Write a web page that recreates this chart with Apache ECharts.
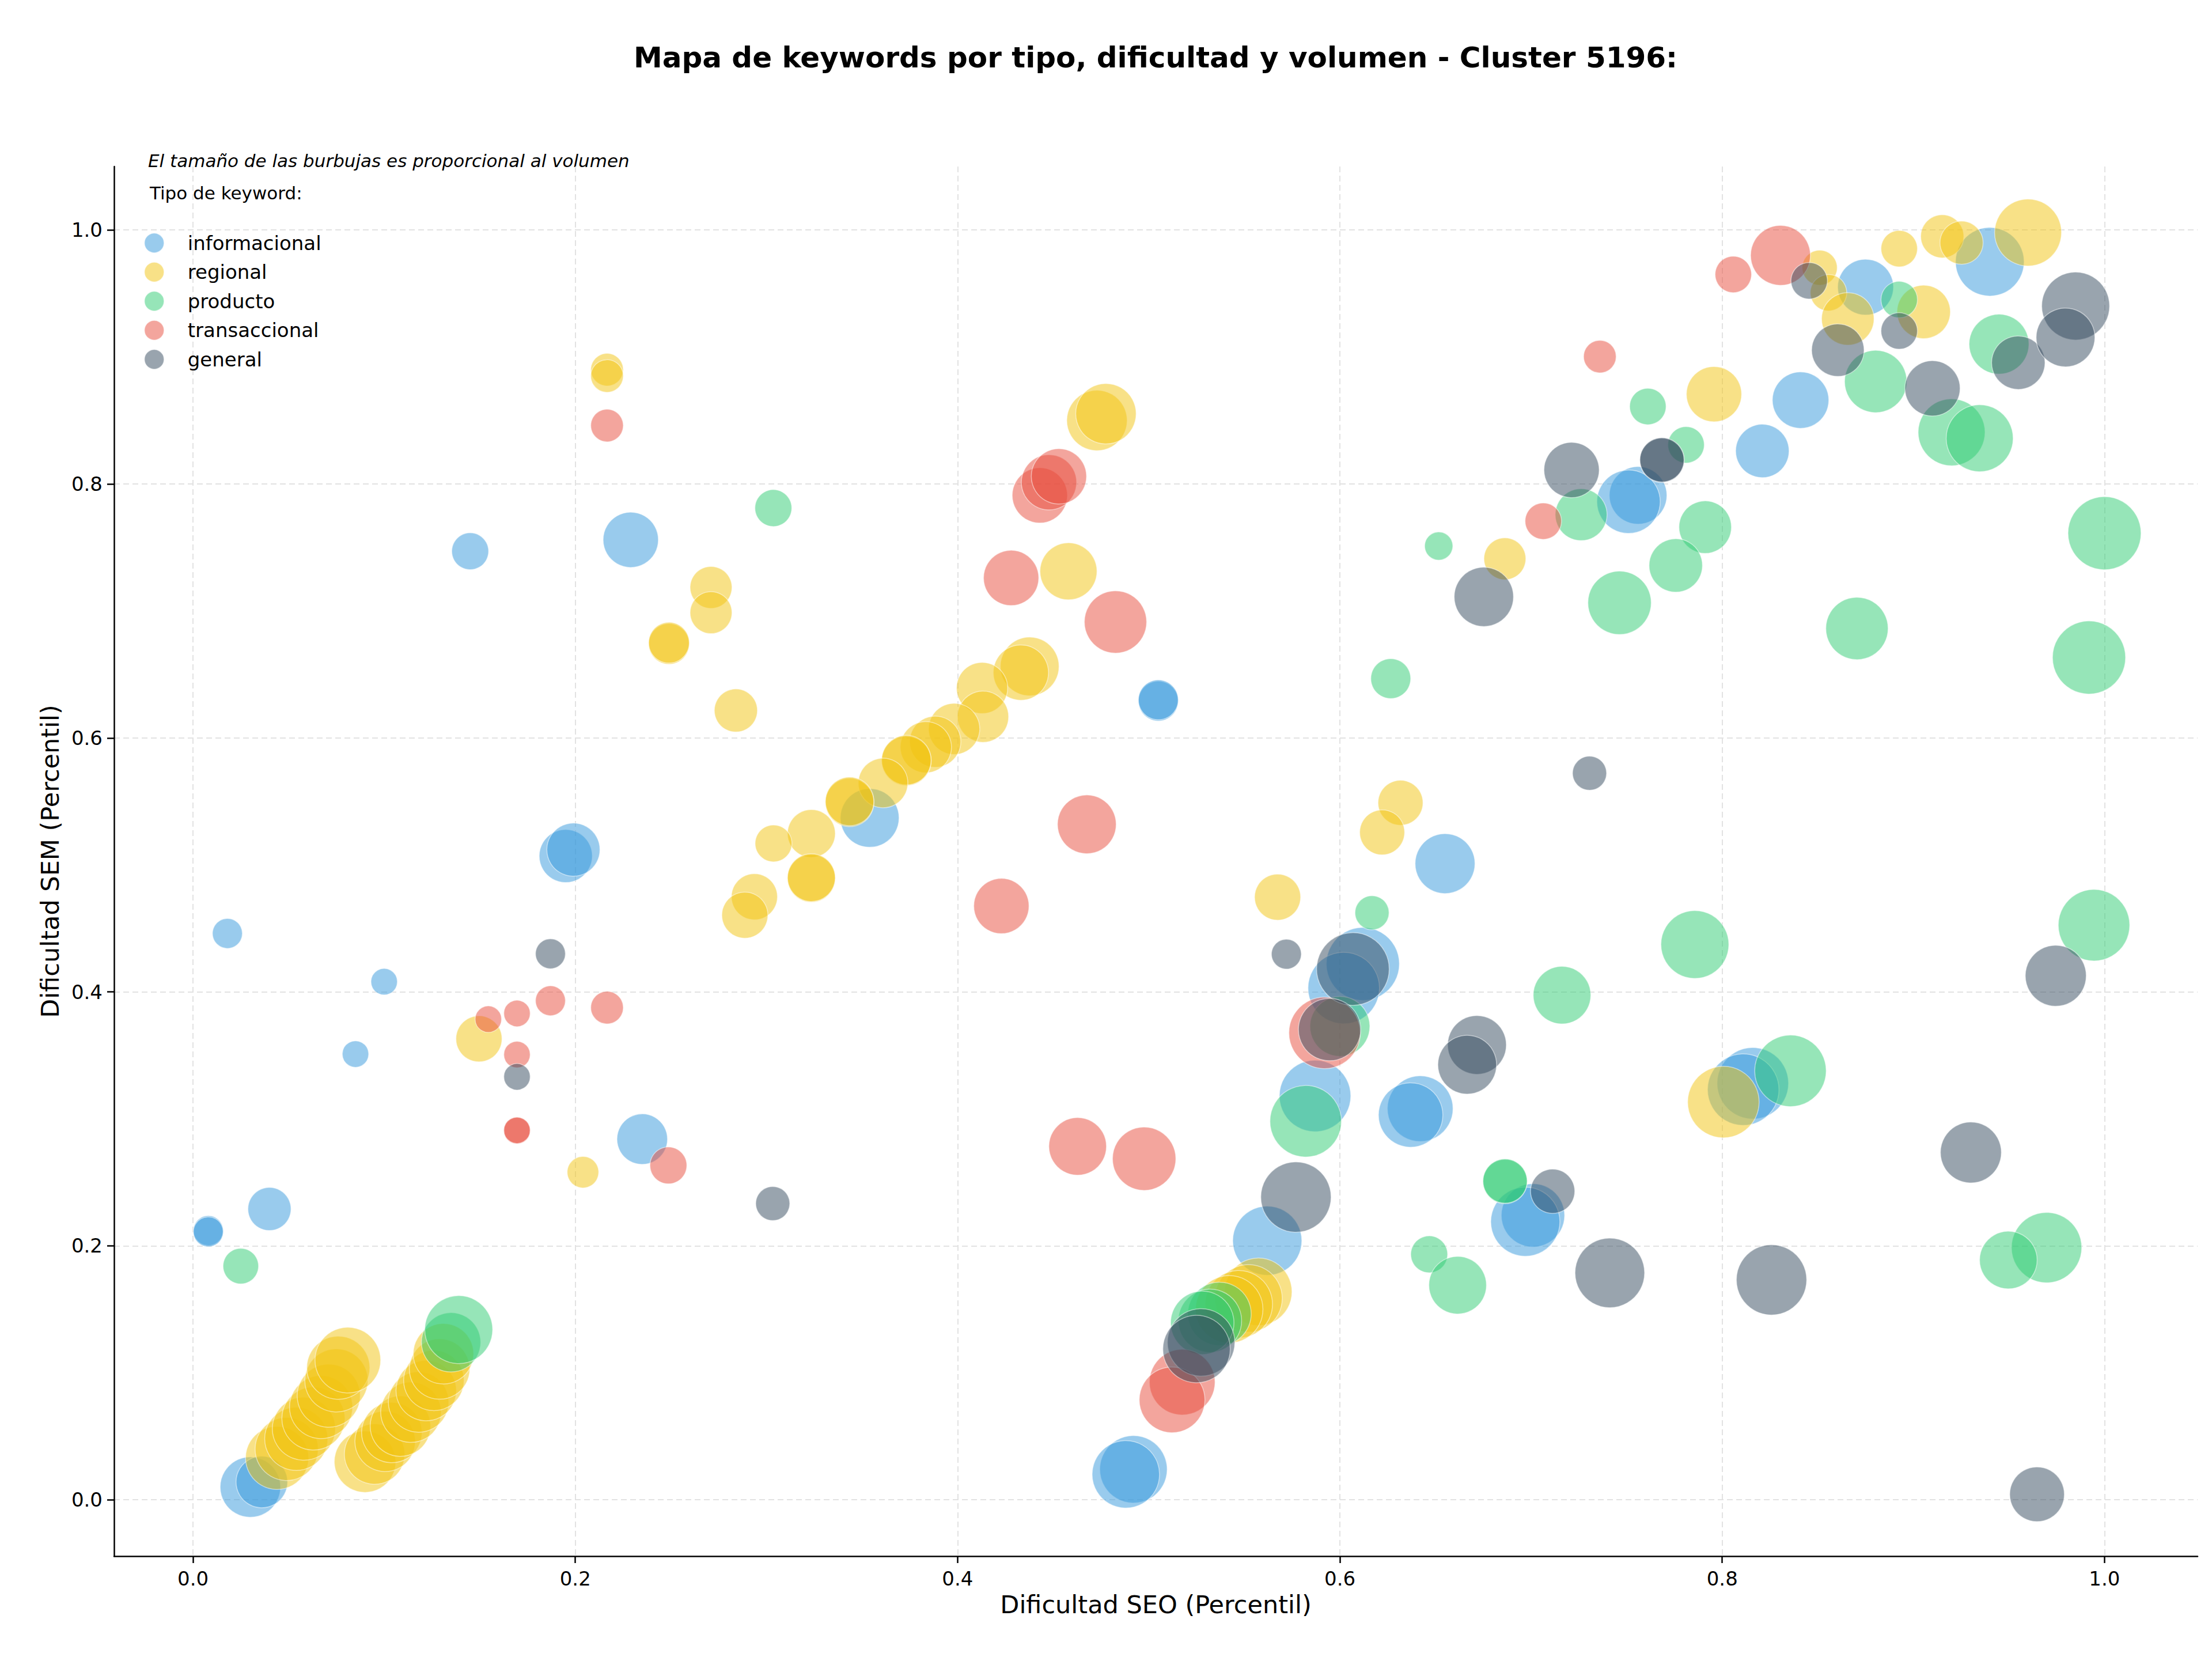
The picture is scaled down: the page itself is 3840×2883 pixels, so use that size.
<!DOCTYPE html>
<html><head><meta charset="utf-8">
<script src="https://cdn.jsdelivr.net/npm/echarts@6/dist/echarts.min.js"></script>
<style>html,body{margin:0;padding:0;background:#fff}#c{width:3840px;height:2883px}</style>
</head><body><div id="c"></div>
<script>
const titleText = 'Mapa de keywords por tipo, dificultad y volumen - Cluster 5196:';
const noteText = 'El tamaño de las burbujas es proporcional al volumen';
const legendTitle = 'Tipo de keyword:';
const xName = 'Dificultad SEO (Percentil)';
const yName = 'Dificultad SEM (Percentil)';
const xTicks = [0, 0.2, 0.4, 0.6, 0.8, 1.0];
const yTicks = [0, 0.2, 0.4, 0.6, 0.8, 1.0];
const categories = ['informacional', 'regional', 'producto', 'transaccional', 'general'];

// [dificultad SEO, dificultad SEM, volumen]
const informacional = [
[0.018,0.446,2700],[0.008,0.212,2700],[0.008,0.211,2700],[0.040,0.229,5600],
[0.100,0.408,2100],[0.085,0.351,2100],[0.145,0.747,4100],[0.229,0.756,9200],
[0.195,0.507,8500],[0.199,0.512,8500],[0.235,0.284,7700],[0.030,0.010,11000],
[0.036,0.014,8000],[0.354,0.537,10400],[0.505,0.629,4800],[0.505,0.630,4800],
[0.492,0.024,13700],[0.488,0.020,13700],[0.562,0.204,14400],[0.587,0.318,15400],
[0.612,0.422,16100],[0.602,0.403,15400],[0.655,0.501,10800],[0.642,0.308,13000],
[0.637,0.303,12500],[0.701,0.224,12100],[0.697,0.219,14400],[0.816,0.328,15400],
[0.811,0.323,15400],[0.756,0.791,10000],[0.751,0.786,12100],[0.821,0.826,8600],
[0.841,0.866,9600],[0.875,0.955,9400],[0.940,0.975,14200]
];
const regional = [
[0.044,0.033,12000],[0.049,0.040,12000],[0.054,0.048,12000],[0.058,0.056,12000],
[0.063,0.064,12000],[0.067,0.073,12000],[0.071,0.082,12000],[0.075,0.094,12000],
[0.076,0.104,12000],[0.081,0.110,13000],[0.090,0.030,11400],
[0.095,0.036,11000],[0.1005,0.046,11000],[0.104,0.053,11000],[0.1085,0.058,11000],
[0.114,0.069,11000],[0.118,0.077,11000],[0.122,0.086,11000],[0.126,0.094,11000],
[0.129,0.103,11000],[0.131,0.115,11000],
[0.2166,0.890,3200],[0.2166,0.885,3200],[0.1496,0.363,6400],[0.204,0.258,3000],
[0.271,0.7185,5300],[0.271,0.6986,5300],[0.249,0.674,5000],[0.249,0.675,5000],
[0.284,0.6216,5600],[0.4729,0.850,11000],[0.4776,0.8553,11000],[0.458,0.7312,9800],
[0.4377,0.6563,10400],[0.4331,0.6514,9200],[0.4128,0.6393,7900],[0.4133,0.6167,7900],
[0.3982,0.6071,7900],[0.3883,0.597,7900],[0.3834,0.5927,7900],[0.3732,0.5819,7400],
[0.3732,0.5825,7400],[0.361,0.5645,7400],[0.3435,0.5492,7100],[0.3435,0.550,7100],
[0.3235,0.5247,6900],[0.3037,0.5169,4100],[0.3235,0.4894,6900],[0.3235,0.4900,6900],
[0.2937,0.4749,6400],[0.2887,0.4604,6400],[0.5674,0.4746,6400],[0.6317,0.5489,6100],
[0.6221,0.5256,6100],[0.6863,0.7411,5300],[0.5573,0.1638,13700],[0.5522,0.1586,13700],
[0.5471,0.154,13700],[0.5421,0.150,13700],[0.8006,0.3132,15400],[0.7957,0.8707,9200],
[0.851,0.9703,3700],[0.8556,0.9506,4000],[0.8657,0.930,8300],[0.8926,0.9853,4000],
[0.9054,0.9355,8600],[0.9151,0.995,5600],[0.9252,0.990,5600],[0.960,0.998,13500]
];
const producto = [
[0.025,0.184,3800],[0.135,0.124,10600],[0.139,0.134,13900],[0.3036,0.781,4100],
[0.6168,0.4623,3500],[0.600,0.3728,10800],[0.5821,0.2981,15400],[0.537,0.1464,12100],
[0.532,0.141,12100],[0.528,0.1394,12100],[0.7162,0.3974,10000],[0.6864,0.2506,5900],
[0.6864,0.2510,5900],[0.6467,0.1933,4100],[0.6616,0.169,10000],[0.7857,0.4373,13900],
[0.9945,0.4525,15400],[0.8357,0.3378,15400],[0.9697,0.1986,14900],[0.9497,0.1888,10000],
[0.6517,0.7511,2400],[0.6266,0.6467,4800],[0.8926,0.9452,4000],[0.9448,0.9101,10800],
[0.920,0.8407,13500],[0.9347,0.836,13500],[0.8803,0.8807,11700],[0.7611,0.861,4000],
[0.7811,0.8308,4000],[0.7262,0.7758,8100],[0.7911,0.766,8300],[0.7757,0.7358,8600],
[0.7463,0.7064,12100],[0.8705,0.6862,11700],[1.000,0.7612,16100],[0.9919,0.6633,16100]
];
const transaccional = [
[0.2166,0.846,3200],[0.187,0.393,2700],[0.2166,0.3876,3200],[0.1695,0.383,2100],
[0.1545,0.3785,2100],[0.1695,0.3506,2100],[0.1695,0.2906,2100],[0.1695,0.2910,2100],
[0.2487,0.2633,4100],[0.443,0.791,9200],[0.4478,0.8013,9200],[0.453,0.806,9200],
[0.428,0.726,9200],[0.4826,0.6913,11700],[0.4676,0.5319,10400],[0.4229,0.4676,9200],
[0.4628,0.2783,10000],[0.4976,0.2686,12100],[0.592,0.3677,15400],[0.5175,0.0926,13000],
[0.5122,0.0787,13000],[0.7064,0.7707,4000],[0.736,0.9003,3200],[0.8058,0.965,4000],
[0.8305,0.980,10800]
];
const general = [
[0.187,0.430,2700],[0.1695,0.3331,2100],[0.3033,0.2333,3500],[0.572,0.4297,2700],
[0.6068,0.418,15900],[0.5946,0.3703,11700],[0.577,0.2384,14900],[0.5274,0.1239,13700],
[0.525,0.1187,13700],[0.6717,0.3582,10400],[0.6666,0.3426,10400],[0.7113,0.243,5900],
[0.7412,0.1787,14600],[0.8258,0.1732,14900],[0.9301,0.2735,11200],[0.9745,0.4127,11200],
[0.9647,0.0043,9000],[0.6753,0.7111,10600],[0.7306,0.5722,3500],[0.7212,0.811,9200],
[0.7685,0.8186,5900],[0.7685,0.8190,5900],[0.8455,0.960,4000],[0.8605,0.9054,8300],
[0.8926,0.9205,4000],[0.910,0.8753,9200],[0.9549,0.8955,8600],[0.9849,0.9401,13900],
[0.9796,0.9154,10400]
];

const seriesData = [informacional, regional, producto, transaccional, general];
const colors = ['#3498db', '#f1c40f', '#2ecc71', '#e74c3c', '#34495e'];
const FONT = '"DejaVu Sans", sans-serif';

const chart = echarts.init(document.getElementById('c'), null, {renderer: 'svg', width: 3840, height: 2883});

const axisCommon = {
  type: 'value',
  axisLine: {show: true, onZero: false, lineStyle: {color: '#000', width: 2.5}},
  axisTick: {show: true, inside: false, length: 12, lineStyle: {color: '#000', width: 2.5}},
  splitLine: {show: true, lineStyle: {color: '#e2e2e2', width: 2, type: [10, 6]}},
  nameLocation: 'middle',
  nameTextStyle: {fontFamily: FONT, fontSize: 43, color: '#000'}
};

chart.setOption({
  animation: false,
  backgroundColor: '#fff',
  color: colors,
  grid: {left: 198, right: 25, top: 289, bottom: 182, containLabel: false},
  xAxis: Object.assign({}, axisCommon, {
    min: -0.0413, max: 1.0487,
    name: xName, nameGap: 62,
    axisTick: Object.assign({}, axisCommon.axisTick, {customValues: xTicks}),
    axisLabel: {customValues: xTicks, margin: 22, fontFamily: FONT, fontSize: 34, color: '#000',
      formatter: v => v.toFixed(1)}
  }),
  yAxis: Object.assign({}, axisCommon, {
    min: -0.0444, max: 1.05,
    name: yName, nameGap: 90,
    axisTick: Object.assign({}, axisCommon.axisTick, {customValues: yTicks}),
    axisLabel: {customValues: yTicks, margin: 20, fontFamily: FONT, fontSize: 34, color: '#000',
      formatter: v => v.toFixed(1)}
  }),
  legend: {
    orient: 'vertical', left: 245, top: 399,
    itemWidth: 34, itemHeight: 34, itemGap: 15,
    icon: 'circle',
    textStyle: {fontFamily: FONT, fontSize: 34, color: '#000', padding: [0, 0, 0, 36]},
    data: categories.map((c, i) => ({name: c, itemStyle: {color: colors[i], opacity: 0.5, borderColor: '#fff', borderWidth: 1.5}}))
  },
  graphic: [
    {type: 'text', x: 2006, y: 100, silent: true,
      style: {text: titleText, fontFamily: FONT, fontSize: 50, fontWeight: 'bold', fill: '#000', align: 'center', verticalAlign: 'middle'}},
    {type: 'text', x: 257, y: 279, silent: true,
      style: {text: noteText, fontFamily: FONT, fontSize: 31, fontStyle: 'italic', fill: '#000', align: 'left', verticalAlign: 'middle'}},
    {type: 'text', x: 260, y: 335, silent: true,
      style: {text: legendTitle, fontFamily: FONT, fontSize: 31, fill: '#000', align: 'left', verticalAlign: 'middle'}}
  ],
  series: categories.map((c, i) => ({
    name: c,
    type: 'scatter',
    data: seriesData[i],
    symbolSize: d => Math.sqrt(d[2]),
    itemStyle: {color: colors[i], opacity: 0.5, borderColor: '#ffffff', borderWidth: 1.5},
    emphasis: {disabled: true},
    clip: false
  }))
});
</script></body></html>
